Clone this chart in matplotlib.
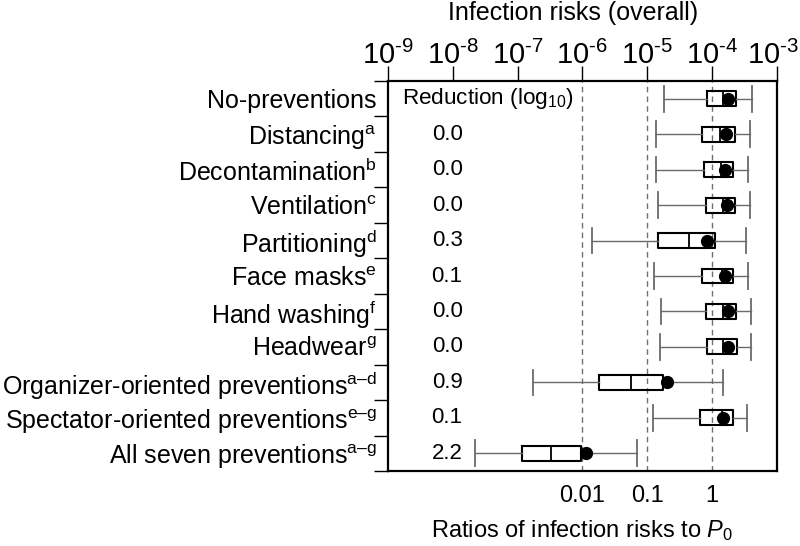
import matplotlib.pyplot as plt
import matplotlib.transforms as mtransforms
import numpy as np

plt.rcParams['font.family'] = 'Liberation Sans'
plt.rcParams['mathtext.fontset'] = 'custom'
plt.rcParams['mathtext.rm'] = 'Liberation Sans'
plt.rcParams['mathtext.it'] = 'Liberation Sans:italic'

labels = ['No-preventions',
          'Distancing$^{\\mathrm{a}}$',
          'Decontamination$^{\\mathrm{b}}$',
          'Ventilation$^{\\mathrm{c}}$',
          'Partitioning$^{\\mathrm{d}}$',
          'Face masks$^{\\mathrm{e}}$',
          'Hand washing$^{\\mathrm{f}}$',
          'Headwear$^{\\mathrm{g}}$',
          'Organizer-oriented preventions$^{\\mathrm{a\u2013d}}$',
          'Spectator-oriented preventions$^{\\mathrm{e\u2013g}}$',
          'All seven preventions$^{\\mathrm{a\u2013g}}$']
reduction = ['', '0.0', '0.0', '0.0', '0.3', '0.1', '0.0', '0.0', '0.9', '0.1', '2.2']

# log10 of infection risk
whis_lo = [-4.74, -4.86, -4.87, -4.84, -5.85, -4.89, -4.78, -4.81, -6.76, -4.91, -7.65]
q1      = [-4.08, -4.15, -4.13, -4.10, -4.84, -4.16, -4.09, -4.08, -5.74, -4.19, -6.93]
med     = [-3.83, -3.87, -3.86, -3.83, -4.35, -3.85, -3.83, -3.83, -5.25, -3.85, -6.48]
q3      = [-3.63, -3.65, -3.68, -3.65, -3.95, -3.68, -3.63, -3.62, -4.75, -3.68, -6.02]
whis_hi = [-3.38, -3.41, -3.44, -3.42, -3.47, -3.45, -3.40, -3.40, -3.83, -3.46, -5.16]
mean    = [-3.75, -3.79, -3.80, -3.77, -4.08, -3.80, -3.76, -3.76, -4.70, -3.83, -5.94]

p0 = 1e-4
ratio_ticks = [0.01, 0.1, 1]
ratio_labels = ['0.01', '0.1', '1']

n = len(labels)
stats = []
for i in range(n):
    stats.append(dict(whislo=10**whis_lo[i], q1=10**q1[i], med=10**med[i],
                      q3=10**q3[i], whishi=10**whis_hi[i], mean=10**mean[i],
                      fliers=[]))

fig = plt.figure(figsize=(8, 5.46), dpi=100)
ax = fig.add_axes([0.485, 0.1374, 0.486, 0.7142])

ax.bxp(stats, positions=np.arange(n), orientation='horizontal', widths=0.42,
       showmeans=True, showfliers=False, patch_artist=False, capwidths=0.72,
       boxprops=dict(color='black', linewidth=1.5),
       medianprops=dict(color='black', linewidth=1.3),
       whiskerprops=dict(color='#6a6a6a', linewidth=1.0),
       capprops=dict(color='#6a6a6a', linewidth=1.3),
       meanprops=dict(marker='o', markerfacecolor='black', markeredgecolor='black',
                      markersize=8.5))

for x in [1e-6, 1e-5, 1e-4]:
    ax.axvline(x, color='#707070', linestyle=(0, (4, 3)), linewidth=1.0, zorder=0)

ax.set_xscale('log')
ax.set_xlim(1e-9, 1e-3)
ax.set_ylim(n - 0.5, -0.5)

# top axis: absolute risks (hyphen in the exponent, as in the original)
ax.xaxis.tick_top()
ax.set_xticks([10.0**e for e in range(-9, -2)])
ax.set_xticklabels(['10$^{\\mathrm{\u2010%d}}$' % -e for e in range(-9, -2)])
ax.tick_params(axis='x', which='major', length=11, width=1.0, labelsize=21, pad=-3)
ax.tick_params(axis='x', which='minor', length=4, width=0.8)
fig.text(0.716, 1 - 13 / 546, 'Infection risks (overall)', fontsize=18,
         ha='center', va='center')

# left axis labels, ticks at row boundaries
ax.set_yticks(np.arange(n))
ax.set_yticklabels(labels, fontsize=18)
ax.set_yticks(np.arange(-0.5, n), minor=True)
ax.tick_params(axis='y', which='major', length=0, pad=8)
ax.tick_params(axis='y', which='minor', length=10, width=1.0)

# keep the last top label inside the figure
last = ax.xaxis.get_major_ticks()[-1].label2
last.set_transform(last.get_transform() +
                   mtransforms.ScaledTranslation(-3 / 72, 0, fig.dpi_scale_trans))

for sp in ax.spines.values():
    sp.set_linewidth(1.6)

# reduction column
ax.text(0.036, 0, 'Reduction (log$_{10}$)', transform=ax.get_yaxis_transform(),
        fontsize=16.2, va='center', ha='left')
for i in range(1, n):
    ax.text(0.152, i, reduction[i], transform=ax.get_yaxis_transform(),
            fontsize=16, va='center', ha='center')

# bottom axis: ratios to P0
sec = ax.secondary_xaxis('bottom', functions=(lambda x: x / p0, lambda x: x * p0))
sec.set_xticks(ratio_ticks)
sec.set_xticklabels(ratio_labels)
sec.xaxis.set_minor_locator(plt.NullLocator())
sec.tick_params(axis='x', length=0, labelsize=17, pad=10)
sec.spines['bottom'].set_visible(False)
sec.set_xlabel('Ratios of infection risks to $\\mathit{P}_{\\mathrm{0}}$', fontsize=17, labelpad=8)

plt.savefig('out.png', dpi=100)
